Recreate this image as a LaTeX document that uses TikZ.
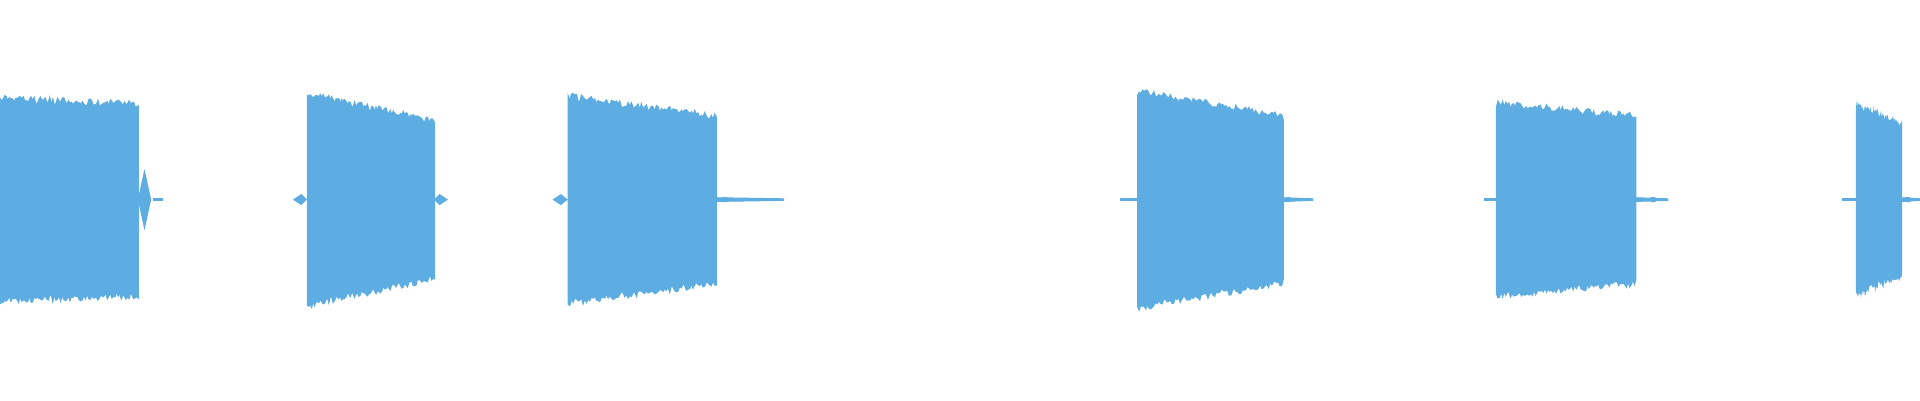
\documentclass[tikz,border=0pt]{standalone}
\usetikzlibrary{calc}
\definecolor{wave}{RGB}{93,172,226}
\tikzset{burst/.style={fill=wave,draw=wave,line width=0.3pt}}
% \burst{start}{end}{height at start}{height at end}
\newcommand{\burst}[4]{%
  \fill[burst] plot[domain=#1:#2,samples=90] (\x,{163-(#3+(#4-#3)*(\x-#1)/(#2-#1))-3*rand})
    -- plot[domain=#2:#1,samples=90] (\x,{163+(#3+(#4-#3)*(\x-#1)/(#2-#1))+3*rand})
    -- cycle;}
\newcommand{\tail}[3]{%
  \fill[burst] (#1,163) -- (#1,161.5) -- (#2,162.4) -- (#2,163.6) -- (#1,164.5) -- cycle;
  \fill[burst] (#3,163) ellipse (2.5 and 1.8);}
\begin{document}
\begin{tikzpicture}[x=0.012245cm,y=-0.012245cm]
  \useasboundingbox (0,0) rectangle (1568,327);
  \pgfmathsetseed{7}
  % bursts
  \burst{0}{113}{82}{78}
  \burst{251}{355}{86}{64}
  \burst{464}{585}{84}{68}
  \burst{929}{1048}{88}{68}
  \burst{1222}{1336}{78}{68}
  \burst{1516}{1553}{76}{60}
  % small tails
  \fill[burst] (113,163) -- (118,140) -- (123,163) -- (118,186) -- cycle;
  \fill[burst] (125,162.5) rectangle (133,163.5);
  \fill[burst] (240,163) -- (246,159) -- (250,163) -- (246,167) -- cycle;
  \fill[burst] (355,163) -- (359,159) -- (365,163) -- (359,167) -- cycle;
  \fill[burst] (452,163) -- (458,159) -- (463,163) -- (458,167) -- cycle;
  \tail{585}{640}{592}
  \tail{1048}{1072}{1052}
  \tail{1336}{1362}{1350}
  \tail{1553}{1568}{1558}
  \fill[burst] (915,162.5) rectangle (928,163.5);
  \fill[burst] (1212,162.5) rectangle (1221,163.5);
  \fill[burst] (1505,162.5) rectangle (1515,163.5);
\end{tikzpicture}
\end{document}
